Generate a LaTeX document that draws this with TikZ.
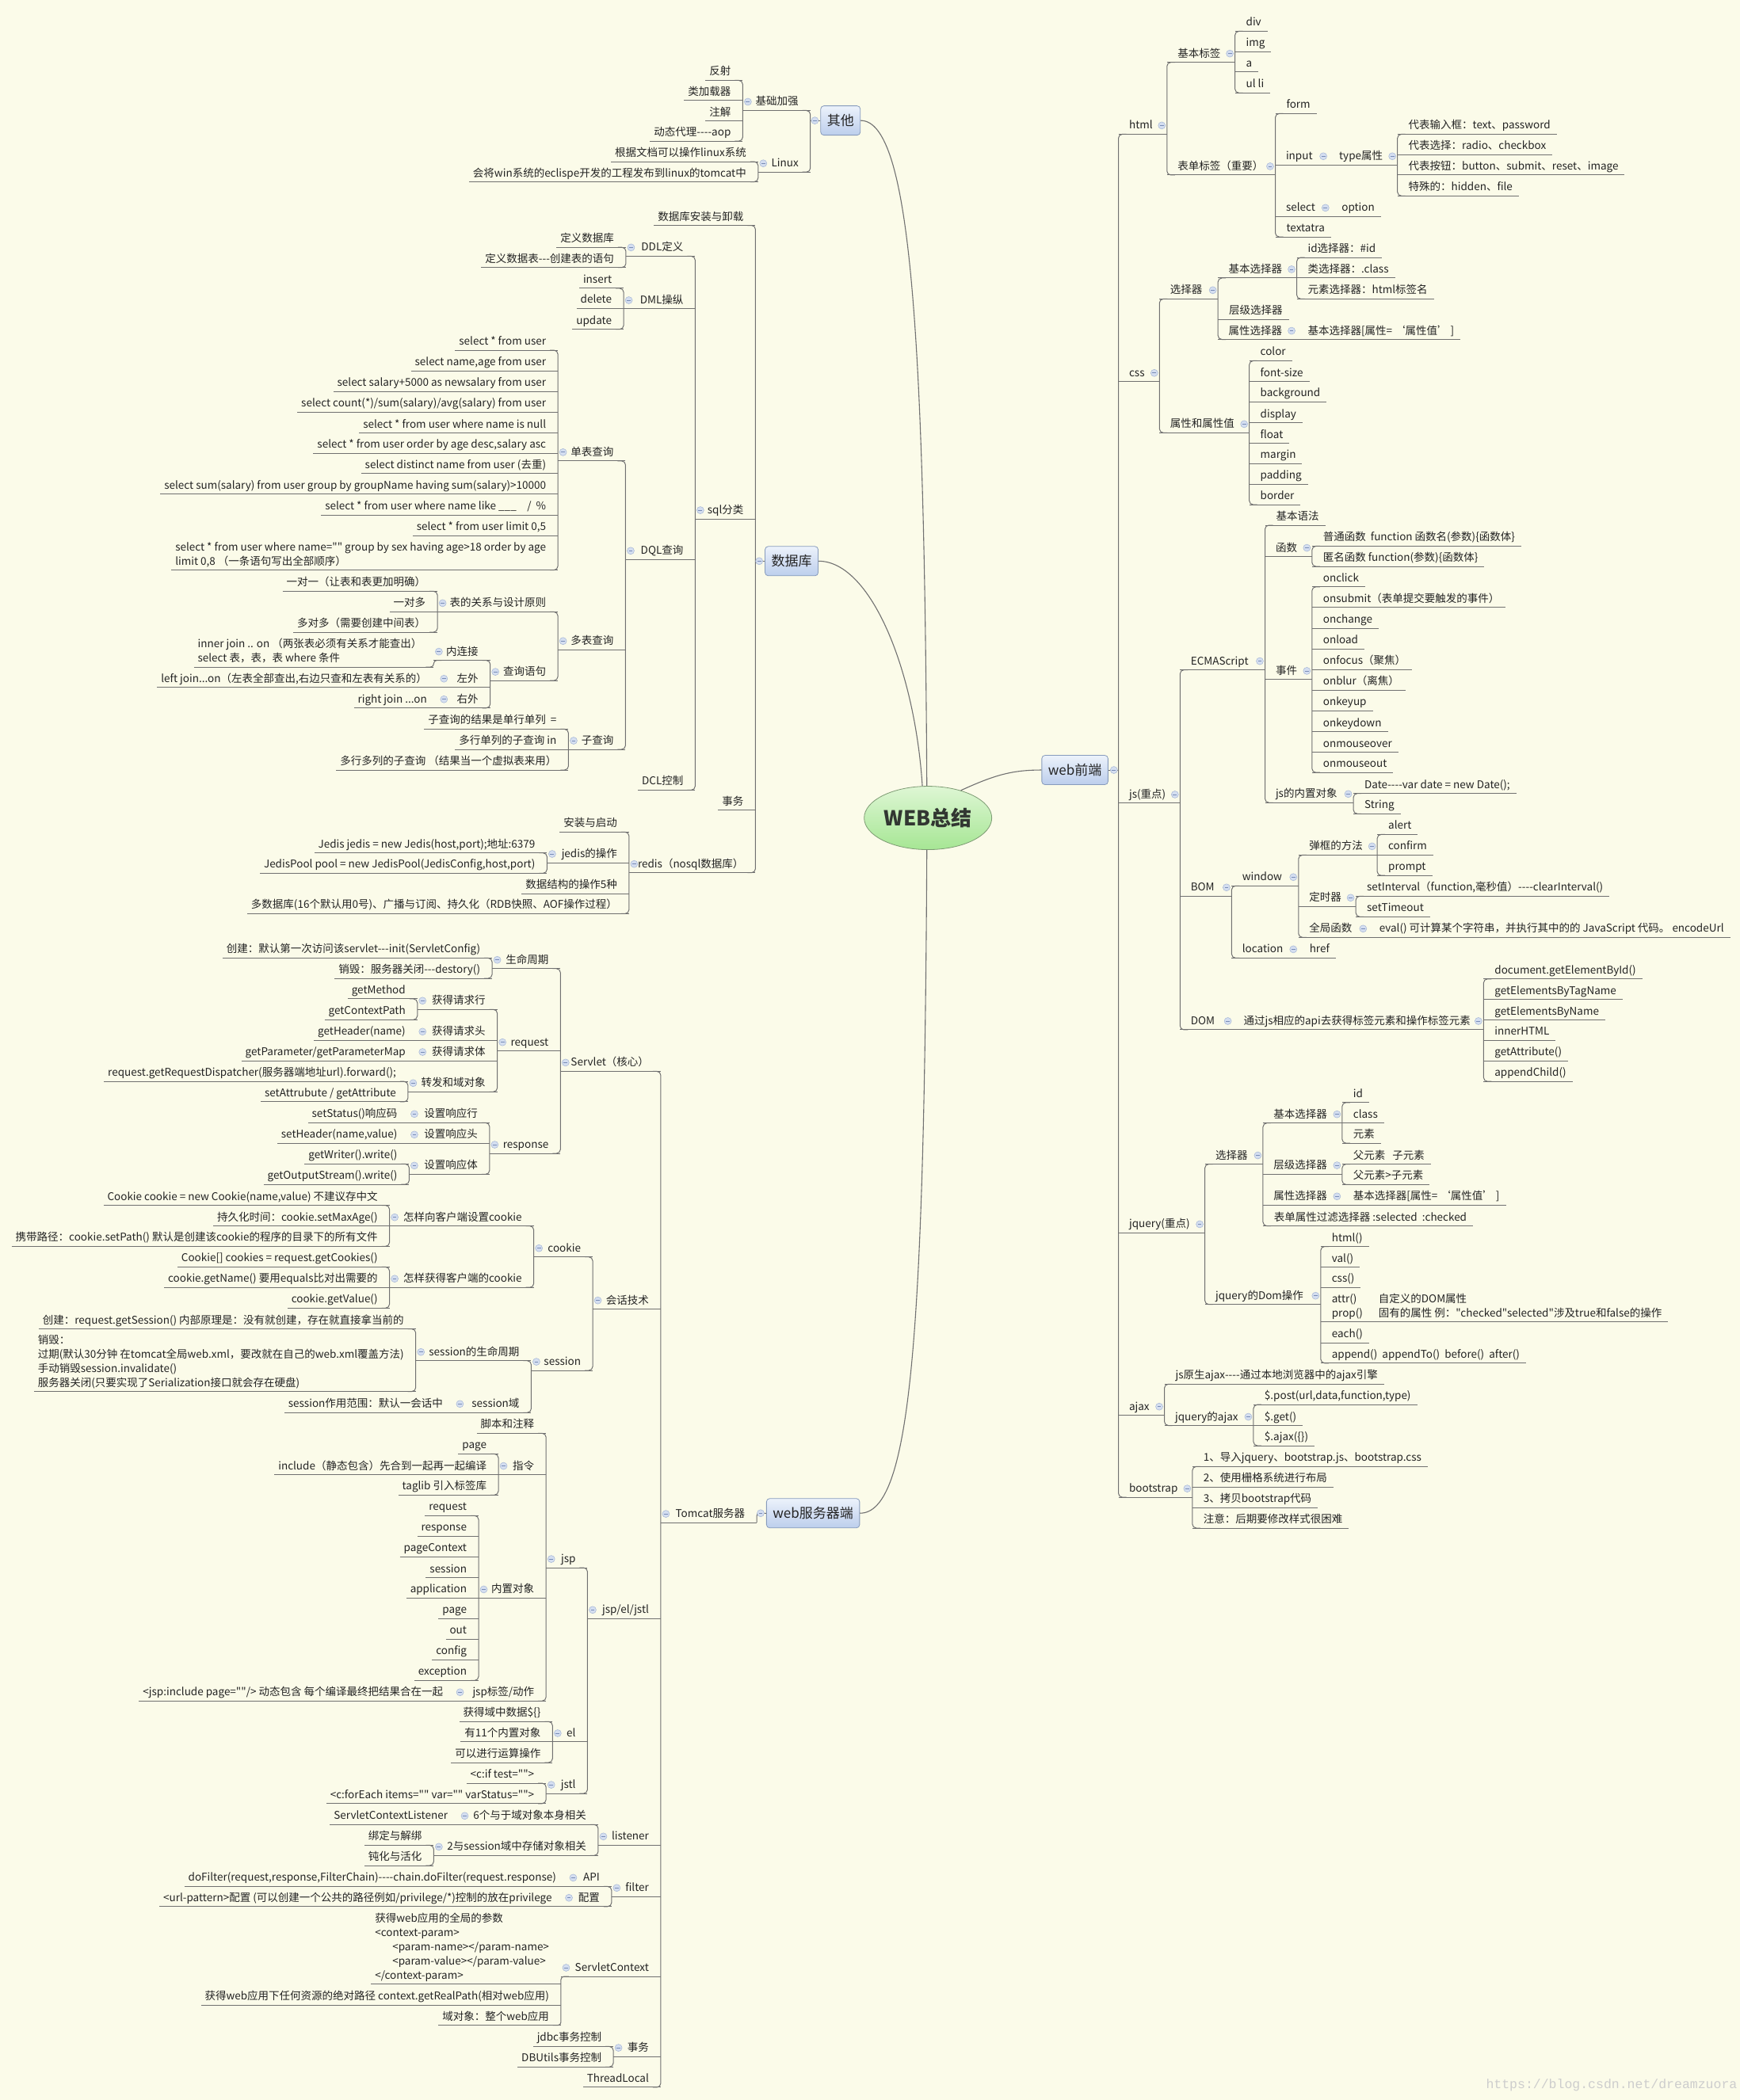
\documentclass[tikz,border=0pt]{standalone}
\usepackage{fontspec}
\newfontfamily\cjk{Noto Sans CJK SC}
\newfontfamily\wmfont{Liberation Mono}
\usetikzlibrary{shapes.geometric}
\definecolor{bg}{RGB}{251,251,233}
\definecolor{ln}{RGB}{112,112,112}
\definecolor{tx}{RGB}{35,35,35}
\definecolor{boxt}{RGB}{236,242,251}
\definecolor{boxb}{RGB}{188,206,236}
\definecolor{boxd}{RGB}{135,155,188}
\definecolor{cent}{RGB}{222,246,212}
\definecolor{cenb}{RGB}{166,230,148}
\definecolor{cend}{RGB}{125,155,115}
\definecolor{circf}{RGB}{212,222,240}
\definecolor{circd}{RGB}{165,182,212}
\definecolor{circm}{RGB}{120,140,182}
\definecolor{wm}{RGB}{205,205,205}
\newcommand\fsz{\cjk\fontsize{13.5}{18}\selectfont}
\newcommand\bsz{\cjk\fontsize{17}{20}\selectfont}
\newcommand\csz{\cjk\fontsize{26}{30}\selectfont}
\newcommand\ml[1]{\begin{tabular}[b]{@{}l@{}}#1\end{tabular}}
\tikzset{
  tp/.style={inner xsep=0pt,inner ysep=2.5pt,outer sep=0pt,text height=10pt,text depth=4pt,font=\fsz,text=tx},
  pt/.style={inner sep=0pt,minimum size=0pt,outer sep=0pt},
  ul/.style={draw=ln,line width=1pt},
  curve/.style={draw=ln,line width=1.1pt},
  cir/.style={fill=circf,draw=circd,line width=0.5pt},
  cirm/.style={draw=circm,line width=0.8pt},
  box/.style={draw=boxd,line width=0.8pt,rounded corners=4pt,top color=boxt,bottom color=boxb,minimum height=37pt,inner xsep=8pt,font=\bsz,text=tx},
  cen/.style={ellipse,draw=cend,line width=0.8pt,top color=cent,bottom color=cenb,minimum width=161pt,minimum height=80pt,inner sep=0pt,font=\csz\bfseries,text={rgb,255:red,50;green,55;blue,50}}
}
\newcommand\Cir[3]{\begin{scope}[shift={(#1)},xshift=#2,yshift=#3]\draw[cir](0,0) circle[radius=4.5pt];\draw[cirm](-2.4pt,0)--(2.4pt,0);\end{scope}}
\newcommand\Lp[5]{%
  \node[tp,anchor=south east,xshift=-15pt] (#2) at (#1 |- 0,#3) {#5};
  \node[pt] (#2B) at (#4,#3) {};
  \draw[ul] (#2B) -- (#1 |- #2B);
  \Cir{#2B}{6.5pt}{11pt}}
\newcommand\Ll[4]{%
  \node[tp,anchor=south east,xshift=-15pt] (#2) at (#1 |- 0,#3) {#4};
  \draw[ul] ([xshift=-5pt]#2.south west) -- (#1 |- #2.south);}
\newcommand\Rp[5]{%
  \node[tp,anchor=south west,xshift=13.5pt] (#2) at (#1 |- 0,#3) {#5};
  \node[pt] (#2B) at (#4,#3) {};
  \draw[ul] (#1 |- #2B) -- (#2B);
  \Cir{#2B}{-6.5pt}{11pt}}
\newcommand\Rl[4]{%
  \node[tp,anchor=south west,xshift=14pt] (#2) at (#1 |- 0,#3) {#4};
  \draw[ul] (#1 |- #2.south) -- ([xshift=8pt]#2.south east);}
\newcommand\BL[3]{\draw[ul,rounded corners=5pt] (#1 |- #2.south) ++(-10pt,0) -- ++(10pt,0) -- (#1 |- #3.south) -- ++(-10pt,0);}
\newcommand\BR[3]{\draw[ul,rounded corners=5pt] (#1 |- #2.south) ++(10pt,0) -- ++(-10pt,0) -- (#1 |- #3.south) -- ++(10pt,0);}
\newcommand\BLp[2]{\draw[ul,rounded corners=4pt] (#1) ++(10pt,0) -- ++(-10pt,0) -- (#1 |- #2.south) -- ++(-10pt,0);}
\begin{document}
\begin{tikzpicture}[x=1.6905pt,y=-1.6905pt]
\fill[bg] (0,0) rectangle (1299,1568.2);
\useasboundingbox (0,0) rectangle (1299,1568.2);

% ---------- centre and main branches ----------
\node[cen] (c) at (692.8,610.8) {WEB总结};
\node[box] (qita) at (627.5,90) {其他};
\node[box] (sjk) at (591,419) {数据库};
\node[box] (wsb) at (607,1130) {web服务器端};
\node[box] (qd) at (802.5,575) {web前端};
\draw[curve] (qita.east) .. controls (680,90) and (690,250) .. (c.92);
\draw[curve] (sjk.east) .. controls (650,419) and (683,500) .. (c.100);
\draw[curve] (c.-92) .. controls (690,1000) and (680,1130) .. (wsb.east);
\draw[curve] (c.40) .. controls (742,579) and (755,575) .. (qd.west);

\node[pt] (qitaB) at (605,90) {};
\draw[ul] (qita.west) -- (qitaB);
\node[pt] (sjkB) at (564,419) {};
\draw[ul] (sjk.west) -- (sjkB);
\node[pt] (wsbB) at (565,1137) {};
\draw[ul,rounded corners=3pt] (wsb.west) -- (wsb.west -| wsbB) -- (wsbB);
\node[pt] (qdB) at (835,575) {};
\draw[ul] (qd.east) -- (qdB);

% ---------- 其他 ----------
\Lp{qitaB}{jcjq}{82.5}{554.5}{基础加强}
\Lp{qitaB}{linux}{128.5}{566}{Linux}
\BL{qitaB}{jcjq}{linux}
\Ll{jcjqB}{fs}{60}{反射}
\Ll{jcjqB}{ljzq}{75}{类加载器}
\Ll{jcjqB}{zj}{90.3}{注解}
\Ll{jcjqB}{dtdl}{105.4}{动态代理----aop}
\BL{jcjqB}{fs}{dtdl}
\Ll{linuxB}{lx1}{120.7}{根据文档可以操作linux系统}
\Ll{linuxB}{lx2}{135.8}{会将win系统的eclispe开发的工程发布到linux的tomcat中}
\BL{linuxB}{lx1}{lx2}

% ---------- 数据库 ----------
\Ll{sjkB}{azxz}{168.3}{数据库安装与卸载}
\Lp{sjkB}{sqlfl}{387.5}{519}{sql分类}
\Ll{sjkB}{sjksw}{605}{事务}
\Lp{sjkB}{redis}{651.7}{469.6}{redis（nosql数据库）}
\BL{sjkB}{azxz}{redis}
\Lp{sqlflB}{ddl}{191.3}{467.3}{DDL定义}
\Lp{sqlflB}{dml}{230.7}{465.6}{DML操纵}
\Lp{sqlflB}{dql}{417.8}{467}{DQL查询}
\Ll{sqlflB}{dcl}{590}{DCL控制}
\BL{sqlflB}{ddl}{dcl}
\Ll{ddlB}{dysjk}{184.7}{定义数据库}
\Ll{ddlB}{dysjb}{199.7}{定义数据表---创建表的语句}
\BL{ddlB}{dysjk}{dysjb}
\Ll{dmlB}{ins}{215.3}{insert}
\Ll{dmlB}{del}{230.3}{delete}
\Ll{dmlB}{upd}{245.9}{update}
\BL{dmlB}{ins}{upd}
\Lp{dqlB}{dbcx}{344.2}{416.5}{单表查询}
\Lp{dqlB}{dbcx2}{485.2}{416.5}{多表查询}
\Lp{dqlB}{zcx}{559.6}{424.4}{子查询}
\BL{dqlB}{dbcx}{zcx}
\Ll{dbcxB}{s1}{261.5}{select * from user}
\Ll{dbcxB}{s2}{276.9}{select name,age from user}
\Ll{dbcxB}{s3}{292.3}{select salary+5000 as newsalary from user}
\Ll{dbcxB}{s4}{307.7}{select count(*)/sum(salary)/avg(salary) from user}
\Ll{dbcxB}{s5}{323.3}{select * from user where name is null}
\Ll{dbcxB}{s6}{338.5}{select * from user order by age desc,salary asc}
\Ll{dbcxB}{s7}{353.7}{select distinct name from user (去重)}
\Ll{dbcxB}{s8}{369}{select sum(salary) from user group by groupName having sum(salary)>10000}
\Ll{dbcxB}{s9}{384.7}{select * from user where name like \_\_\_\quad/\ \ \%}
\Ll{dbcxB}{s10}{400.1}{select * from user limit 0,5}
\Ll{dbcxB}{s11}{425.7}{\ml{select * from user where name="" group by sex having age>18 order by age\\limit 0,8 （一条语句写出全部顺序）}}
\BL{dbcxB}{s1}{s11}
\Lp{dbcx2B}{gx}{456.9}{326.6}{表的关系与设计原则}
\Lp{dbcx2B}{cxyj}{508.2}{366}{查询语句}
\BL{dbcx2B}{gx}{cxyj}
\Ll{gxB}{g1}{441.5}{一对一（让表和表更加明确）}
\Ll{gxB}{g2}{456.9}{一对多}
\Ll{gxB}{g3}{472.1}{多对多（需要创建中间表）}
\BL{gxB}{g1}{g3}
\Lp{cxyjB}{nlj}{493.1}{323.8}{内连接}
\Lp{cxyjB}{zw}{513.3}{327.6}{左外}
\Lp{cxyjB}{yw}{528.7}{327.6}{右外}
\BL{cxyjB}{nlj}{yw}
\Ll{nljB}{nljc}{498.1}{\ml{inner join .. on （两张表必须有关系才能查出）\\select 表，表，表 where 条件}}
\BLp{nljB}{nljc}
\Ll{zwB}{zwc}{513.3}{left join...on（左表全部查出,右边只查和左表有关系的）}
\Ll{ywB}{ywc}{528.7}{right join ...on}
\Ll{zcxB}{z1}{544.5}{子查询的结果是单行单列 \ =}
\Ll{zcxB}{z2}{559.7}{多行单列的子查询 in}
\Ll{zcxB}{z3}{575}{多行多列的子查询 （结果当一个虚拟表来用）}
\BL{zcxB}{z1}{z3}
\Ll{redisB}{r1}{621.3}{安装与启动}
\Lp{redisB}{jedis}{644.2}{408.4}{jedis的操作}
\Ll{redisB}{r3}{667.4}{数据结构的操作5种}
\Ll{redisB}{r4}{682.3}{多数据库(16个默认用0号)、广播与订阅、持久化（RDB快照、AOF操作过程）}
\BL{redisB}{r1}{r4}
\Ll{jedisB}{j1}{636.9}{Jedis jedis = new Jedis(host,port);地址:6379}
\Ll{jedisB}{j2}{652.1}{JedisPool pool = new JedisPool(JedisConfig,host,port)}
\BL{jedisB}{j1}{j2}

% ---------- web服务器端 ----------
\Lp{wsbB}{tomcat}{1137}{493.3}{Tomcat服务器}
\Lp{tomcatB}{servlet}{800}{418.4}{Servlet（核心）}
\Lp{tomcatB}{hhjs}{977.6}{442.5}{会话技术}
\Lp{tomcatB}{jej}{1208.7}{438.6}{jsp/el/jstl}
\Lp{tomcatB}{listener}{1377.9}{446.6}{listener}
\Lp{tomcatB}{filter}{1416.3}{456.6}{filter}
\Lp{tomcatB}{sc}{1475.9}{418.8}{ServletContext}
\Lp{tomcatB}{tsw}{1535.7}{457.9}{事务}
\Ll{tomcatB}{tl}{1558.7}{ThreadLocal}
\BL{tomcatB}{servlet}{tl}

\Lp{servletB}{smzq}{723.3}{367.4}{生命周期}
\Lp{servletB}{req}{784.8}{371.3}{request}
\Lp{servletB}{resp}{861.3}{365.5}{response}
\BL{servletB}{smzq}{resp}
\Ll{smzqB}{cj}{715.4}{创建：默认第一次访问该servlet---init(ServletConfig)}
\Ll{smzqB}{xh}{730.6}{销毁：服务器关闭---destory()}
\BL{smzqB}{cj}{xh}
\Lp{reqB}{qqh}{753.8}{311.6}{获得请求行}
\Lp{reqB}{qqt}{776.9}{311.6}{获得请求头}
\Lp{reqB}{qqt2}{792.1}{311.6}{获得请求体}
\Lp{reqB}{zf}{815.3}{304.6}{转发和域对象}
\BL{reqB}{qqh}{zf}
\Ll{qqhB}{gm}{745.9}{getMethod}
\Ll{qqhB}{gcp}{761.5}{getContextPath}
\BL{qqhB}{gm}{gcp}
\Ll{qqtB}{gh}{776.9}{getHeader(name)}
\Ll{qqt2B}{gp}{792.1}{getParameter/getParameterMap}
\Ll{zfB}{rd}{807.6}{request.getRequestDispatcher(服务器端地址url).forward();}
\Ll{zfB}{sa}{822.8}{setAttrubute / getAttribute}
\BL{zfB}{rd}{sa}
\Lp{respB}{xyh}{838.4}{305.5}{设置响应行}
\Lp{respB}{xyt}{853.8}{305.5}{设置响应头}
\Lp{respB}{xyt2}{876.9}{305.5}{设置响应体}
\BL{respB}{xyh}{xyt2}
\Ll{xyhB}{ss}{838.4}{setStatus()响应码}
\Ll{xytB}{sh}{853.8}{setHeader(name,value)}
\Ll{xyt2B}{gw}{869.2}{getWriter().write()}
\Ll{xyt2B}{gos}{884.4}{getOutputStream().write()}
\BL{xyt2B}{gw}{gos}

\Lp{hhjsB}{cookie}{938.6}{398.5}{cookie}
\Lp{hhjsB}{session}{1023.4}{396.6}{session}
\BL{hhjsB}{cookie}{session}
\Lp{cookieB}{szck}{915.5}{290.8}{怎样向客户端设置cookie}
\Lp{cookieB}{hdck}{961.4}{290.8}{怎样获得客户端的cookie}
\BL{cookieB}{szck}{hdck}
\Ll{szckB}{c1}{900.1}{Cookie cookie = new Cookie(name,value) 不建议存中文}
\Ll{szckB}{c2}{915.5}{持久化时间：cookie.setMaxAge()}
\Ll{szckB}{c3}{930.7}{携带路径：cookie.setPath() 默认是创建该cookie的程序的目录下的所有文件}
\BL{szckB}{c1}{c3}
\Ll{hdckB}{c4}{946.1}{Cookie[] cookies = request.getCookies()}
\Ll{hdckB}{c5}{961.4}{cookie.getName() 要用equals比对出需要的}
\Ll{hdckB}{c6}{976.8}{cookie.getValue()}
\BL{hdckB}{c4}{c6}
\Lp{sessionB}{sszq}{1016.1}{310.4}{session的生命周期}
\Lp{sessionB}{ssy}{1054.9}{339.5}{session域}
\BL{sessionB}{sszq}{ssy}
\Ll{sszqB}{sc1}{992.4}{创建：request.getSession() 内部原理是：没有就创建，存在就直接拿当前的}
\Ll{sszqB}{sc2}{1039.1}{\ml{销毁：\\过期(默认30分钟 在tomcat全局web.xml，要改就在自己的web.xml覆盖方法)\\手动销毁session.invalidate()\\服务器关闭(只要实现了Serialization接口就会存在硬盘)}}
\BL{sszqB}{sc1}{sc2}
\Ll{ssyB}{sc3}{1054.9}{session作用范围：默认一会话中}

\Lp{jejB}{jsp}{1170.7}{407.7}{jsp}
\Lp{jejB}{el}{1300.8}{412.5}{el}
\Lp{jejB}{jstl}{1339.3}{407.7}{jstl}
\BL{jejB}{jsp}{jstl}
\Ll{jspB}{jbzs}{1070.3}{脚本和注释}
\Lp{jspB}{zl}{1101.2}{372.1}{指令}
\Lp{jspB}{nzdx}{1193.4}{357.3}{内置对象}
\Lp{jspB}{jspbq}{1270.2}{339.6}{jsp标签/动作}
\BL{jspB}{jbzs}{jspbq}
\Ll{zlB}{zl1}{1085.7}{page}
\Ll{zlB}{zl2}{1101.2}{include（静态包含）先合到一起再一起编译}
\Ll{zlB}{zl3}{1116.4}{taglib 引入标签库}
\BL{zlB}{zl1}{zl3}
\Ll{nzdxB}{n1}{1131.8}{request}
\Ll{nzdxB}{n2}{1147.2}{response}
\Ll{nzdxB}{n3}{1162.6}{pageContext}
\Ll{nzdxB}{n4}{1178.2}{session}
\Ll{nzdxB}{n5}{1193.4}{application}
\Ll{nzdxB}{n6}{1208.7}{page}
\Ll{nzdxB}{n7}{1224.1}{out}
\Ll{nzdxB}{n8}{1239.5}{config}
\Ll{nzdxB}{n9}{1254.9}{exception}
\BL{nzdxB}{n1}{n9}
\Ll{jspbqB}{jspinc}{1270.2}{<jsp:include page=""/> 动态包含 每个编译最终把结果合在一起}
\Ll{elB}{el1}{1285.6}{获得域中数据\$\{\}}
\Ll{elB}{el2}{1300.8}{有11个内置对象}
\Ll{elB}{el3}{1316.2}{可以进行运算操作}
\BL{elB}{el1}{el3}
\Ll{jstlB}{jt1}{1331.6}{<c:if test="">}
\Ll{jstlB}{jt2}{1346.8}{<c:forEach items="" var="" varStatus="">}
\BL{jstlB}{jt1}{jt2}

\Lp{listenerB}{l6}{1362.5}{343.1}{6个与于域对象本身相关}
\Lp{listenerB}{l2}{1385.6}{323.8}{2与session域中存储对象相关}
\BL{listenerB}{l6}{l2}
\Ll{l6B}{scl}{1362.5}{ServletContextListener}
\Ll{l2B}{bd}{1377.9}{绑定与解绑}
\Ll{l2B}{dh}{1393.1}{钝化与活化}
\BL{l2B}{bd}{dh}

\Lp{filterB}{api}{1408.7}{424.1}{API}
\Lp{filterB}{pz}{1423.7}{420.9}{配置}
\BL{filterB}{api}{pz}
\Ll{apiB}{df}{1408.7}{doFilter(request,response,FilterChain)----chain.doFilter(request.response)}
\Ll{pzB}{up}{1423.7}{<url-pattern>配置 (可以创建一个公共的路径例如/privilege/*)控制的放在privilege}

\Ll{scB}{scx1}{1481.8}{\ml{获得web应用的全局的参数\\<context-param>\\\hspace*{22pt}<param-name></param-name>\\\hspace*{22pt}<param-value></param-value>\\</context-param>}}
\Ll{scB}{scx2}{1497.2}{获得web应用下任何资源的绝对路径 context.getRealPath(相对web应用)}
\Ll{scB}{scx3}{1512.4}{域对象：整个web应用}
\BLp{scB}{scx3}

\Ll{tswB}{jdbc}{1528.2}{jdbc事务控制}
\Ll{tswB}{dbu}{1543.5}{DBUtils事务控制}
\BL{tswB}{jdbc}{dbu}

% ---------- web前端 ----------
\Rp{qdB}{html}{100.2}{871.2}{html}
\Rp{qdB}{css}{285}{865.6}{css}
\Rp{qdB}{js}{599.8}{881}{js(重点)}
\Rp{qdB}{jq}{920.7}{899.5}{jquery(重点)}
\Rp{qdB}{ajax}{1056.9}{869.3}{ajax}
\Rp{qdB}{bs}{1118.1}{890.2}{bootstrap}
\BR{qdB}{html}{bs}

\Rp{htmlB}{jbbq}{46.5}{922}{基本标签}
\Rp{htmlB}{bdbq}{130.7}{952.1}{表单标签（重要）}
\BR{htmlB}{jbbq}{bdbq}
\Rl{jbbqB}{div}{23.3}{div}
\Rl{jbbqB}{img}{38.6}{img}
\Rl{jbbqB}{ta}{53.8}{a}
\Rl{jbbqB}{ulli}{69.4}{ul li}
\BR{jbbqB}{div}{ulli}
\Rl{bdbqB}{form}{84.8}{form}
\Rp{bdbqB}{input}{123.2}{991.8}{input}
\Rp{bdbqB}{sel}{161.7}{993.4}{select}
\Rl{bdbqB}{texta}{176.9}{textatra}
\BR{bdbqB}{form}{texta}
\Rp{inputB}{type}{123.2}{1043.3}{type属性}
\Rl{typeB}{t1}{100.2}{代表输入框：text、password}
\Rl{typeB}{t2}{115.4}{代表选择：radio、checkbox}
\Rl{typeB}{t3}{130.7}{代表按钮：button、submit、reset、image}
\Rl{typeB}{t4}{146.3}{特殊的：hidden、file}
\BR{typeB}{t1}{t4}
\Rl{selB}{opt}{161.7}{option}

\Rp{cssB}{xzq}{223.2}{909.3}{选择器}
\Rp{cssB}{sxz}{323.2}{932.7}{属性和属性值}
\BR{cssB}{xzq}{sxz}
\Rp{xzqB}{jbxzq}{207.6}{968.1}{基本选择器}
\Rl{xzqB}{cjxzq}{238.4}{层级选择器}
\Rp{xzqB}{sxxzq}{253.5}{968.1}{属性选择器}
\BR{xzqB}{jbxzq}{sxxzq}
\Rl{jbxzqB}{idx}{192.3}{id选择器：\#id}
\Rl{jbxzqB}{clx}{207.6}{类选择器：.class}
\Rl{jbxzqB}{ysx}{223.2}{元素选择器：html标签名}
\BR{jbxzqB}{idx}{ysx}
\Rl{sxxzqB}{sxx}{253.5}{基本选择器[属性= ‘属性值’ ]}
\Rl{sxzB}{p1}{269.4}{color}
\Rl{sxzB}{p2}{285}{font-size}
\Rl{sxzB}{p3}{300}{background}
\Rl{sxzB}{p4}{315.7}{display}
\Rl{sxzB}{p5}{331.1}{float}
\Rl{sxzB}{p6}{346.3}{margin}
\Rl{sxzB}{p7}{361.7}{padding}
\Rl{sxzB}{p8}{376.9}{border}
\BR{sxzB}{p1}{p8}

\Rp{jsB}{ecma}{500.2}{944.4}{ECMAScript}
\Rp{jsB}{bom}{669.2}{919.5}{BOM}
\Rp{jsB}{dom}{769}{920.5}{DOM}
\BR{jsB}{ecma}{dom}
\Rl{ecmaB}{jbyf}{392.2}{基本语法}
\Rp{ecmaB}{hs}{415.6}{979.5}{函数}
\Rp{ecmaB}{sj}{507.5}{979.5}{事件}
\Rp{ecmaB}{nzdx2}{599.4}{1010.4}{js的内置对象}
\BR{ecmaB}{jbyf}{nzdx2}
\Rl{hsB}{hs1}{407.8}{普通函数 \ function 函数名(参数)\{函数体\}}
\Rl{hsB}{hs2}{423}{匿名函数 function(参数)\{函数体\}}
\BR{hsB}{hs1}{hs2}
\Rl{sjB}{e1}{438.2}{onclick}
\Rl{sjB}{e2}{453.7}{onsubmit（表单提交要触发的事件）}
\Rl{sjB}{e3}{469.1}{onchange}
\Rl{sjB}{e4}{484.5}{onload}
\Rl{sjB}{e5}{500}{onfocus（聚焦）}
\Rl{sjB}{e6}{515.4}{onblur（离焦）}
\Rl{sjB}{e7}{530.9}{onkeyup}
\Rl{sjB}{e8}{546.3}{onkeydown}
\Rl{sjB}{e9}{561.7}{onmouseover}
\Rl{sjB}{e10}{576.9}{onmouseout}
\BR{sjB}{e1}{e10}
\Rl{nzdx2B}{date}{592.5}{Date----var date = new Date();}
\Rl{nzdx2B}{str}{607.7}{String}
\BR{nzdx2B}{date}{str}

\Rp{bomB}{win}{661.5}{969.4}{window}
\Rp{bomB}{loc}{715.4}{969.4}{location}
\BR{bomB}{win}{loc}
\Rp{winB}{tk}{638.5}{1028.2}{弹框的方法}
\Rp{winB}{dsq}{676.9}{1012.2}{定时器}
\Rp{winB}{qjhs}{700}{1021.5}{全局函数}
\BR{winB}{tk}{qjhs}
\Rl{tkB}{alert}{623.1}{alert}
\Rl{tkB}{confirm}{638.5}{confirm}
\Rl{tkB}{prompt}{653.8}{prompt}
\BR{tkB}{alert}{prompt}
\Rl{dsqB}{si}{669.2}{setInterval（function,毫秒值）----clearInterval()}
\Rl{dsqB}{st}{684.6}{setTimeout}
\BR{dsqB}{si}{st}
\Rl{qjhsB}{eval}{700}{eval() 可计算某个字符串，并执行其中的的 JavaScript 代码。 encodeUrl}
\Rl{locB}{href}{715.4}{href}

\Rp{domB}{domapi}{769}{1107.6}{通过js相应的api去获得标签元素和操作标签元素}
\Rl{domapiB}{d1}{731}{document.getElementById()}
\Rl{domapiB}{d2}{746.3}{getElementsByTagName}
\Rl{domapiB}{d3}{761.7}{getElementsByName}
\Rl{domapiB}{d4}{776.9}{innerHTML}
\Rl{domapiB}{d5}{792.3}{getAttribute()}
\Rl{domapiB}{d6}{807.6}{appendChild()}
\BR{domapiB}{d1}{d6}

\Rp{jqB}{jqxzq}{869.3}{942.9}{选择器}
\Rp{jqB}{jqdom}{974.1}{986}{jquery的Dom操作}
\BR{jqB}{jqxzq}{jqdom}
\Rp{jqxzqB}{jqjb}{838.6}{1002}{基本选择器}
\Rp{jqxzqB}{jqcj}{876.7}{1002}{层级选择器}
\Rp{jqxzqB}{jqsx}{899.9}{1002}{属性选择器}
\Rl{jqxzqB}{jqbd}{915.5}{表单属性过滤选择器 :selected \ :checked}
\BR{jqxzqB}{jqjb}{jqbd}
\Rl{jqjbB}{jid}{823.3}{id}
\Rl{jqjbB}{jcl}{838.6}{class}
\Rl{jqjbB}{jys}{853.7}{元素}
\BR{jqjbB}{jid}{jys}
\Rl{jqcjB}{fz1}{869.3}{父元素\ \ \ 子元素}
\Rl{jqcjB}{fz2}{884.6}{父元素>子元素}
\BR{jqcjB}{fz1}{fz2}
\Rl{jqsxB}{jqsxx}{899.9}{基本选择器[属性= ‘属性值’ ]}
\Rl{jqdomB}{m1}{930.8}{html()}
\Rl{jqdomB}{m2}{946.3}{val()}
\Rl{jqdomB}{m3}{961.4}{css()}
\Rl{jqdomB}{m4}{987.2}{\begin{tabular}[b]{@{}l@{\hspace{20pt}}l@{}}attr() & 自定义的DOM属性\\prop() & 固有的属性 例："checked"selected"涉及true和false的操作\end{tabular}}
\Rl{jqdomB}{m5}{1002.8}{each()}
\Rl{jqdomB}{m6}{1017.9}{append() \ appendTo() \ before() \ after()}
\BR{jqdomB}{m1}{m6}

\Rl{ajaxB}{yaj}{1033.6}{js原生ajax----通过本地浏览器中的ajax引擎}
\Rp{ajaxB}{jqaj}{1064.5}{935.8}{jquery的ajax}
\BR{ajaxB}{yaj}{jqaj}
\Rl{jqajB}{post}{1048.9}{\$.post(url,data,function,type)}
\Rl{jqajB}{get}{1064.5}{\$.get()}
\Rl{jqajB}{ajx}{1079.6}{\$.ajax(\{\})}
\BR{jqajB}{post}{ajx}

\Rl{bsB}{b1}{1095.1}{1、导入jquery、bootstrap.js、bootstrap.css}
\Rl{bsB}{b2}{1110.4}{2、使用栅格系统进行布局}
\Rl{bsB}{b3}{1126}{3、拷贝bootstrap代码}
\Rl{bsB}{b4}{1141.1}{注意：后期要修改样式很困难}
\BR{bsB}{b1}{b4}

% box collapse markers
\Cir{qita.west}{-7pt}{0pt}
\Cir{sjk.west}{-7pt}{0pt}
\Cir{wsb.west}{-7pt}{0pt}
\Cir{qd.east}{7pt}{0pt}

\node[anchor=east,inner sep=0pt,font=\wmfont\fontsize{16.5}{18}\selectfont,text=wm] (wmk) at (1297,1557) {https://blog.csdn.net/dreamzuora};
\end{tikzpicture}
\end{document}
